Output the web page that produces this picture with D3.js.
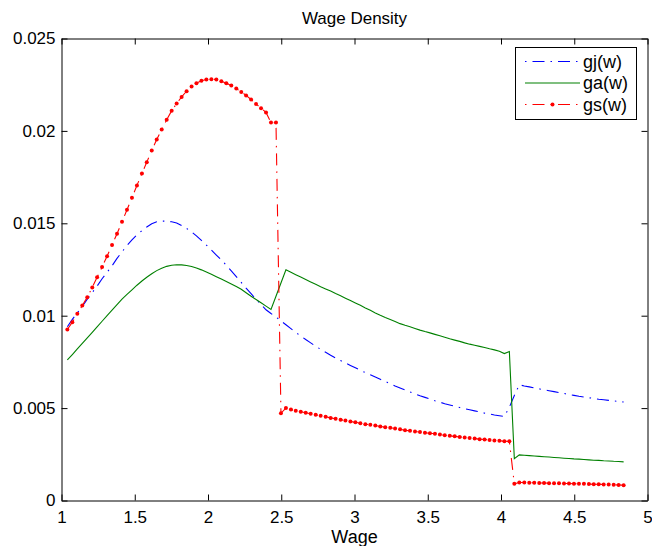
<!DOCTYPE html>
<html><head><meta charset="utf-8">
<script src="https://cdn.jsdelivr.net/npm/d3@7"></script>
<style>body{margin:0;background:#fff} text{font-family:"Liberation Sans",Arial,Helvetica,sans-serif}</style>
</head><body><svg id="c" width="652" height="546"></svg>
<script>
const wage = [1.040,1.074,1.108,1.142,1.176,1.210,1.243,1.277,1.311,1.345,
1.379,1.413,1.447,1.481,1.515,1.549,1.582,1.616,1.650,1.684,
1.718,1.752,1.786,1.820,1.854,1.888,1.921,1.955,1.989,2.023,
2.057,2.091,2.125,2.159,2.193,2.227,2.260,2.294,2.328,2.362,
2.396,2.430,2.464,2.498,2.532,2.566,2.599,2.633,2.667,2.701,
2.735,2.769,2.803,2.837,2.871,2.905,2.938,2.972,3.006,3.040,
3.074,3.108,3.142,3.176,3.210,3.244,3.277,3.311,3.345,3.379,
3.413,3.447,3.481,3.515,3.549,3.583,3.616,3.650,3.684,3.718,
3.752,3.786,3.820,3.854,3.888,3.922,3.955,3.989,4.023,4.057,
4.091,4.125,4.159,4.193,4.227,4.261,4.294,4.328,4.362,4.396,
4.430,4.464,4.498,4.532,4.566,4.600,4.633,4.667,4.701,4.735,
4.769,4.803,4.837];

const gj = [0.0094,0.0098,0.01015,0.0105,0.0109,0.01125,0.0116,0.012,0.01235,0.0127,
0.0131,0.01345,0.0138,0.0141,0.01438,0.0146,0.0148,0.01498,0.01508,0.01512,
0.01512,0.01508,0.01502,0.01488,0.01472,0.01453,0.01432,0.01408,0.01382,0.01355,
0.01328,0.01302,0.01273,0.01243,0.01212,0.0118,0.01149,0.01119,0.0109,0.0106,0.01032,0.01012,
0.00993,0.00972,0.00951,0.0093,0.0091,0.0089,0.00871,0.00853,0.00835,0.00818,0.00802,0.00786,0.00771,
0.00757,0.00744,0.00731,0.00718,0.00705,0.00692,0.0068,0.00668,0.00656,0.00644,
0.00632,0.0062,0.00609,0.00598,0.00587,0.00577,0.00567,0.00558,0.00549,0.0054,
0.00532,0.00524,0.00517,0.0051,0.00503,0.00497,0.00491,0.00485,0.00479,0.00473,
0.00468,0.00463,0.00459,0.00455,
0.00505,0.00568,
0.00626,0.0062,0.00615,0.00609,0.00604,0.00599,0.00594,0.00589,0.00584,0.00579,
0.00574,0.00569,0.00564,0.0056,0.00556,0.00552,0.00548,0.00545,0.00542,0.00539,0.00536,0.00533];

const ga = [0.00761,0.0079,0.0082,0.0085,0.0088,0.0091,0.0094,0.0097,0.01,0.0103,
0.0106,0.0109,0.01115,0.0114,0.01165,0.01188,0.01208,0.01227,0.01244,0.01257,
0.01267,0.01273,0.01276,0.01275,0.01272,0.01266,0.01258,0.01248,0.01236,0.01224,
0.01211,0.01198,0.01185,0.01172,0.01158,0.01143,0.01124,0.01105,0.01088,0.0107,
0.01052,0.01034,0.01105,0.01177,0.01248,
0.01235,0.01222,0.01209,0.01196,0.01183,0.0117,0.01157,0.01145,0.01133,0.0112,
0.01108,0.01095,0.01082,0.01069,0.01056,0.01042,0.01029,0.01015,0.01002,0.0099,
0.00979,0.00968,0.00957,0.00948,0.0094,0.00931,0.00922,0.00914,0.00907,0.00899,
0.00891,0.00883,0.00875,0.00868,0.00861,0.00853,0.00846,0.0084,0.00834,0.00828,
0.00821,0.00815,0.00808,0.00795,0.00806,
0.00226,0.00247,0.00245,0.00243,0.00241,0.00239,0.00237,0.00235,0.00233,0.00231,
0.00229,0.00227,0.00225,0.00224,0.00222,0.0022,0.00218,0.00217,0.00215,0.00214,0.00212,0.00211,0.00209];

const gs = [0.00925,0.00965,0.0101,0.01055,0.011,0.01153,0.01208,0.01263,0.01322,0.01383,
0.01443,0.01508,0.01573,0.01638,0.01705,0.01769,0.01831,0.01894,0.01953,0.02008,
0.0206,0.02109,0.02148,0.02184,0.02215,0.0224,0.02258,0.02271,0.02278,0.0228,
0.02278,0.02269,0.02258,0.02246,0.02229,0.02211,0.02192,0.0217,0.02146,0.02123,
0.021,0.02045,0.02045,
0.00472,0.005,0.00492,0.00485,0.0048,0.00475,0.00469,0.00464,0.00458,0.00453,
0.00447,0.00442,0.00437,0.00433,0.00427,0.00423,0.00418,0.00413,0.0041,0.00406,
0.004,0.00397,0.00393,0.0039,0.00385,0.0038,0.00377,0.00373,0.0037,0.00367,
0.00364,0.00361,0.00357,0.00353,0.0035,0.00347,0.00344,0.00341,0.00338,0.00335,
0.00332,0.0033,0.00328,0.00325,0.00323,0.00321,0.0032,
0.0009,0.00097,0.00097,0.00096,0.00096,0.00095,0.00095,0.00094,0.00094,0.00093,
0.00092,0.00092,0.00091,0.0009,0.0009,0.00089,0.00088,0.00088,0.00087,0.00086,
0.00085,0.00084,0.00083];

const xTicks = [1,1.5,2,2.5,3,3.5,4,4.5,5];
const xTickLabels = ["1","1.5","2","2.5","3","3.5","4","4.5","5"];
const yTicks = [0,0.005,0.01,0.015,0.02,0.025];
const yTickLabels = ["0","0.005","0.01","0.015","0.02","0.025"];
const seriesNames = ["gj(w)","ga(w)","gs(w)"];
const seriesColors = ["#0000ff","#008000","#ff0000"];
const titleText = "Wage Density";
const xLabelText = "Wage";

const svg = d3.select("#c");
const x = d3.scaleLinear().domain([1,5]).range([61.5,647.5]);
const y = d3.scaleLinear().domain([0,0.025]).range([500.5,38.5]);
const dashDot = "12,6,1.5,6";

svg.append("rect").attr("width",652).attr("height",546).attr("fill","#fff");

function styleAxis(g, fs){
  g.selectAll(".domain").attr("stroke","#000").attr("stroke-width",1);
  g.selectAll(".tick line").attr("stroke","#000").attr("stroke-width",1);
  g.selectAll(".tick text").attr("fill","#000").attr("font-size",fs).attr("font-family","Liberation Sans, Arial, sans-serif");
}

const line = d3.line().x((d,i)=>x(wage[i])).y(d=>y(d));
const plot = svg.append("g");

plot.append("path").datum(gj).attr("d",line).attr("fill","none")
  .attr("stroke",seriesColors[0]).attr("stroke-width",1.1).attr("stroke-dasharray",dashDot);
plot.append("path").datum(ga).attr("d",line).attr("fill","none")
  .attr("stroke",seriesColors[1]).attr("stroke-width",1.1);
plot.append("path").datum(gs).attr("d",line).attr("fill","none")
  .attr("stroke",seriesColors[2]).attr("stroke-width",1.1).attr("stroke-dasharray",dashDot);
plot.selectAll("circle.m").data(gs).join("circle").attr("class","m")
  .attr("cx",(d,i)=>x(wage[i])).attr("cy",d=>y(d)).attr("r",2).attr("fill",seriesColors[2]);

const gB = svg.append("g").attr("transform",`translate(0,${y(0)})`)
  .call(d3.axisBottom(x).tickValues(xTicks).tickFormat((d,i)=>xTickLabels[i]).tickSizeInner(-6).tickSizeOuter(0).tickPadding(10));
styleAxis(gB,17);
const gT = svg.append("g").attr("transform",`translate(0,${y(0.025)})`)
  .call(d3.axisTop(x).tickValues(xTicks).tickFormat("").tickSizeInner(-6).tickSizeOuter(0));
styleAxis(gT,17);
const gL = svg.append("g").attr("transform",`translate(${x(1)},0)`)
  .call(d3.axisLeft(y).tickValues(yTicks).tickFormat((d,i)=>yTickLabels[i]).tickSizeInner(-6).tickSizeOuter(0).tickPadding(6));
styleAxis(gL,17);
const gR = svg.append("g").attr("transform",`translate(${x(5)},0)`)
  .call(d3.axisRight(y).tickValues(yTicks).tickFormat("").tickSizeInner(-6).tickSizeOuter(0));
styleAxis(gR,17);

svg.append("text").attr("x",(x(1)+x(5))/2).attr("y",24).attr("text-anchor","middle")
  .attr("font-size",17).attr("fill","#000").text(titleText);
svg.append("text").attr("x",(x(1)+x(5))/2).attr("y",543).attr("text-anchor","middle")
  .attr("font-size",18).attr("fill","#000").text(xLabelText);

const lg = svg.append("g");
lg.append("rect").attr("x",515.5).attr("y",47.5).attr("width",121).attr("height",72)
  .attr("fill","#fff").attr("stroke","#000").attr("stroke-width",1);
const rowY = [61.5,83,104.5];
seriesNames.forEach((name,k)=>{
  const ln = lg.append("line").attr("x1",525).attr("x2",580).attr("y1",rowY[k]).attr("y2",rowY[k])
    .attr("stroke",seriesColors[k]).attr("stroke-width",1.1);
  if(k!==1) ln.attr("stroke-dasharray",dashDot).attr("stroke-dashoffset",18);
  if(k===2) lg.append("circle").attr("cx",552.5).attr("cy",rowY[k]).attr("r",2).attr("fill",seriesColors[k]);
  lg.append("text").attr("x",583).attr("y",rowY[k]).attr("dy","0.35em").attr("font-size",18)
    .attr("fill","#000").text(name);
});
</script></body></html>
